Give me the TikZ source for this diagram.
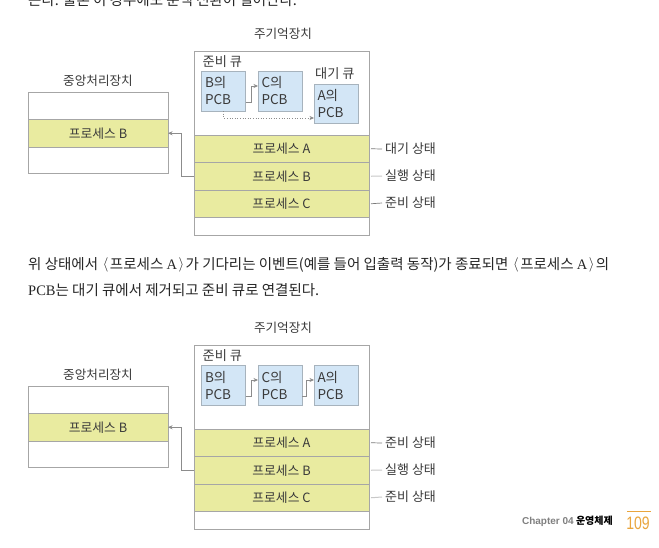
\documentclass[tikz,border=0pt]{standalone}
\usepackage{fontspec}
\setmainfont{Noto Sans CJK KR}
\newfontfamily\lserif{Liberation Serif}
\newfontfamily\lsans{Liberation Sans}
\newcommand{\lbr}{\hspace{1.5pt}\raisebox{0.5pt}{$\langle$}\hspace{1.5pt}}
\newcommand{\rbr}{\hspace{1.5pt}\raisebox{0.5pt}{$\rangle$}\hspace{1.5pt}}
\usetikzlibrary{arrows.meta}
\definecolor{boxgray}{HTML}{A6A6A6}
\definecolor{procfill}{HTML}{E9EBA0}
\definecolor{pcbfill}{HTML}{D3E6F6}
\definecolor{pcbdraw}{HTML}{A7B3BD}
\definecolor{txt}{HTML}{3A3A3A}
\definecolor{bodytxt}{HTML}{262626}
\definecolor{conngray}{HTML}{8C8C8C}
\definecolor{lightline}{HTML}{C8C8C8}
\definecolor{darkline}{HTML}{7A7A7A}
\definecolor{orangenum}{HTML}{E9A53D}
\begin{document}
\begin{tikzpicture}[x=1pt,y=-1pt,
  frame/.style={draw=boxgray, line width=0.8pt, fill=white, inner sep=0pt, outer sep=0pt},
  proc/.style={draw=boxgray, line width=0.8pt, fill=procfill, minimum width=175pt, minimum height=27.5pt, inner sep=0pt, outer sep=0pt, text=txt, font=\fontsize{12.8}{14}\selectfont},
  cproc/.style={proc, minimum width=140pt},
  pcb/.style={draw=pcbdraw, line width=0.7pt, fill=pcbfill, minimum width=43pt, minimum height=40pt, text width=37pt, inner xsep=3.5pt, inner ysep=0pt, outer sep=0pt, align=left, text=txt, font=\fontsize{13.5}{17}\selectfont},
  title/.style={text=txt, font=\fontsize{12.6}{14}\selectfont, inner sep=0pt},
  qlabel/.style={text=txt, font=\fontsize{13.2}{15}\selectfont, inner sep=0pt, anchor=west},
  state/.style={text=txt, font=\fontsize{13}{15}\selectfont, inner sep=0pt, anchor=west},
  conn/.style={draw=conngray, line width=0.6pt, -{Stealth[length=4.5pt,width=4pt]}},
  dline/.style={draw=darkline, line width=0.7pt},
  lline/.style={draw=lightline, line width=1pt},
  body/.style={text=bodytxt, font=\fontsize{14.5}{17}\selectfont, inner sep=0pt, anchor=west}
]
\clip (0,0) rectangle (659,547);
\fill[white] (0,0) rectangle (659,547);

% cut-off top line
\node[body, anchor=base west] (top) at (28,5.5) {는다. 물론 이 경우에도 문맥 전환이 일어난다.};

% ---------------- diagram 1 ----------------
\node[title] (mt1) at (283,34) {주기억장치};
\node[frame, minimum width=175pt, minimum height=184pt] (mem1) at (281.5,143) {};
\node[proc] (pA1) at (281.5,148.75) {프로세스 A};
\node[proc] (pB1) at (281.5,176.25) {프로세스 B};
\node[proc] (pC1) at (281.5,203.75) {프로세스 C};
\node[qlabel] (rq1) at (202.5,62) {준비 큐};
\node[pcb] (bq1) at (223.5,91) {B의\\PCB};
\node[pcb] (cq1) at (280,91) {C의\\PCB};
\node[qlabel] (wq1) at (315,74) {대기 큐};
\node[pcb, minimum height=39pt] (aq1) at (336,103.5) {A의\\PCB};
\draw[conn] ([yshift=-11pt]bq1.east) -- ++(5.5,0) |- ([yshift=5pt]cq1.west);
\draw[conn, dotted] (bq1.south) |- ([yshift=-14.5pt]aq1.west);

\node[title] (ct1) at (98,80.5) {중앙처리장치};
\node[frame, minimum width=140pt, minimum height=81pt] (cpu1) at (98,132.5) {};
\node[cproc] (cB1) at (98,133.25) {프로세스 B};
\draw[conn] (pB1.west) -- ++(-12.5,0) |- (cB1.east);

\node[state] (sA1) at (385,149) {대기 상태};
\node[state] (sB1) at (385,176) {실행 상태};
\node[state] (sC1) at (385,203) {준비 상태};
\draw[dline] ([xshift=2pt]pA1.east) -- ([xshift=-3pt]sA1.west);
\draw[lline] ([xshift=2pt]pB1.east) -- ([xshift=-3pt]sB1.west);
\draw[dline] ([xshift=2pt]pC1.east) -- ([xshift=-3pt]sC1.west);

% ---------------- body text ----------------
\node[body] (l1) at (28,265) {위 상태에서 \lbr 프로세스 {\lserif A}\rbr 가 기다리는 이벤트(예를 들어 입출력 동작)가 종료되면 \lbr 프로세스 {\lserif A}\rbr 의};
\node[body] (l2) at (28,290) {{\lserif PCB}는 대기 큐에서 제거되고 준비 큐로 연결된다.};

% ---------------- diagram 2 ----------------
\begin{scope}[yshift=-294pt]
\node[title] (mt2) at (283,34) {주기억장치};
\node[frame, minimum width=175pt, minimum height=184pt] (mem2) at (281.5,143) {};
\node[proc] (pA2) at (281.5,148.75) {프로세스 A};
\node[proc] (pB2) at (281.5,176.25) {프로세스 B};
\node[proc] (pC2) at (281.5,203.75) {프로세스 C};
\node[qlabel] (rq2) at (202.5,62) {준비 큐};
\node[pcb] (bq2) at (223.5,91) {B의\\PCB};
\node[pcb] (cq2) at (280,91) {C의\\PCB};
\node[pcb] (aq2) at (336,91) {A의\\PCB};
\draw[conn] ([yshift=-11pt]bq2.east) -- ++(5.5,0) |- ([yshift=5pt]cq2.west);
\draw[conn] ([yshift=-11pt]cq2.east) -- ++(4,0) |- ([yshift=5pt]aq2.west);

\node[title] (ct2) at (98,80.5) {중앙처리장치};
\node[frame, minimum width=140pt, minimum height=81pt] (cpu2) at (98,132.5) {};
\node[cproc] (cB2) at (98,133.25) {프로세스 B};
\draw[conn] (pB2.west) -- ++(-12.5,0) |- (cB2.east);

\node[state] (sA2) at (385,149) {준비 상태};
\node[state] (sB2) at (385,176) {실행 상태};
\node[state] (sC2) at (385,203) {준비 상태};
\draw[dline] ([xshift=2pt]pA2.east) -- ([xshift=-3pt]sA2.west);
\draw[lline] ([xshift=2pt]pB2.east) -- ([xshift=-3pt]sB2.west);
\draw[lline] ([xshift=2pt]pC2.east) -- ([xshift=-3pt]sC2.west);
\end{scope}

% ---------------- footer ----------------
\node[inner sep=0pt, anchor=east, font=\fontsize{10}{12}\selectfont\bfseries] (chap) at (613,521) {{\lsans\bfseries\color{gray}Chapter 04} \color{black}운영체제};
\node[inner sep=0pt, anchor=center, text=orangenum, font=\lsans\fontsize{18}{20}\selectfont] (pg) at (638,523.5) {\scalebox{0.78}[1]{109}};
\draw[orangenum, line width=0.9pt] (627,511.5) -- (651,511.5);
\end{tikzpicture}
\end{document}
